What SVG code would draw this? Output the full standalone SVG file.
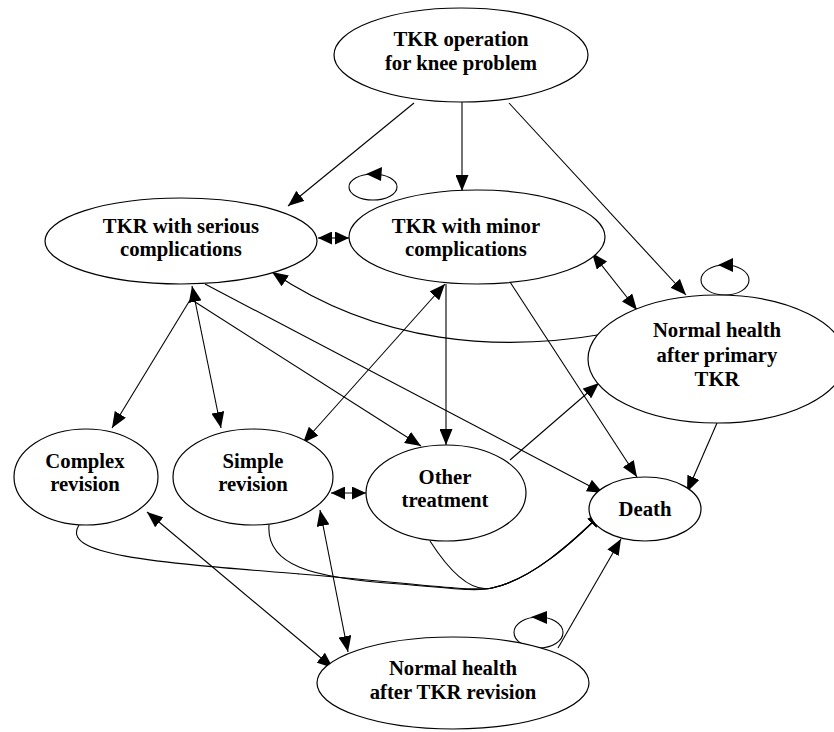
<svg xmlns="http://www.w3.org/2000/svg" width="834" height="732" viewBox="0 0 834 732">
<defs>
<style>
.n ellipse{fill:#fff;stroke:#000;stroke-width:1.2}
.n text{font-family:"Liberation Serif","Times New Roman",serif;font-weight:bold;font-size:20.7px;text-anchor:middle;fill:#000}
.e path,.e line{fill:none;stroke:#000;stroke-width:1.1}
.loop{fill:none;stroke:#000;stroke-width:1.1}
.ah{fill:#000}
</style>
<marker id="a" viewBox="0 0 16 13" refX="16" refY="6.5" markerWidth="16" markerHeight="13" markerUnits="userSpaceOnUse" orient="auto-start-reverse"><path d="M0,0 L16,6.5 L0,13 z"/></marker>
<marker id="s" viewBox="0 0 14 13" refX="14" refY="6.5" markerWidth="14" markerHeight="13" markerUnits="userSpaceOnUse" orient="auto-start-reverse"><path d="M0,0 L14,6.5 L0,13 z"/></marker>
</defs>
<rect width="834" height="732" fill="#fff"/>
<g id="connectors" class="e">
<line x1="414" y1="103" x2="288" y2="206" marker-end="url(#a)"/>
<line x1="462" y1="102" x2="462" y2="191" marker-end="url(#a)"/>
<line x1="509" y1="103" x2="686" y2="295" marker-end="url(#a)"/>
<line x1="318" y1="238" x2="349" y2="238" marker-start="url(#s)" marker-end="url(#s)"/>
<line x1="592" y1="253" x2="637" y2="310" marker-start="url(#a)" marker-end="url(#a)"/>
<path d="M604,334 C500,352 380,345 272,272" marker-end="url(#a)"/>
<line x1="190" y1="300" x2="112" y2="428" marker-end="url(#a)"/>
<line x1="192" y1="286" x2="221" y2="428" marker-start="url(#a)" marker-end="url(#a)"/>
<line x1="192" y1="300" x2="421" y2="446" marker-end="url(#a)"/>
<line x1="205" y1="284" x2="603" y2="493" marker-end="url(#a)"/>
<line x1="446" y1="284" x2="446" y2="445" marker-end="url(#a)"/>
<line x1="445" y1="284" x2="303" y2="443" marker-start="url(#a)" marker-end="url(#a)"/>
<line x1="510" y1="282" x2="637" y2="477" marker-end="url(#a)"/>
<line x1="510" y1="460" x2="599" y2="383" marker-end="url(#a)"/>
<line x1="717" y1="423" x2="687" y2="492" marker-end="url(#a)"/>
<line x1="331" y1="493" x2="366" y2="493" marker-start="url(#s)" marker-end="url(#s)"/>
<path d="M79,525 C60,555 150,562 300,574 C400,582 470,592 492,588 C530,580 570,545 603,512" marker-end="url(#a)"/>
<path d="M269,525 C266,565 310,578 400,584 C450,588 475,592 492,588 C530,580 570,545 603,512"/>
<path d="M430,541 C455,580 475,592 492,588 C530,580 570,545 603,512"/>
<line x1="147" y1="512" x2="333" y2="668" marker-start="url(#a)" marker-end="url(#a)"/>
<line x1="320" y1="510" x2="348" y2="652" marker-start="url(#a)" marker-end="url(#a)"/>
<line x1="558" y1="648" x2="621" y2="539" marker-end="url(#a)"/>
<ellipse class="loop" cx="373" cy="187" rx="24" ry="13"/>
<polygon class="ah" points="366,174 382,167 381,181"/>
<ellipse class="loop" cx="725" cy="280" rx="24" ry="15"/>
<polygon class="ah" points="718,265 733,258 733,272"/>
<ellipse class="loop" cx="538.5" cy="632.5" rx="24.5" ry="15.5"/>
<polygon class="ah" points="531,617 547,611 547,624"/>
</g>
<g id="tkr_op" class="n"><ellipse cx="461" cy="55" rx="127" ry="47"/><text x="461" y="46">TKR operation</text><text x="461" y="70">for knee problem</text></g>
<g id="serious" class="n"><ellipse cx="181" cy="241" rx="136" ry="43"/><text x="181" y="233">TKR with serious</text><text x="181" y="256">complications</text></g>
<g id="minor" class="n"><ellipse cx="477" cy="237" rx="128" ry="47"/><text x="466" y="233">TKR with minor</text><text x="466" y="256">complications</text></g>
<g id="primary" class="n"><ellipse cx="717" cy="359" rx="129" ry="64"/><text x="717" y="337">Normal health</text><text x="717" y="362">after primary</text><text x="717" y="386">TKR</text></g>
<g id="complex" class="n"><ellipse cx="86" cy="477" rx="72" ry="48"/><text x="85" y="468">Complex</text><text x="85" y="491">revision</text></g>
<g id="simple" class="n"><ellipse cx="253" cy="477" rx="80" ry="48"/><text x="253" y="468">Simple</text><text x="253" y="491">revision</text></g>
<g id="other" class="n"><ellipse cx="446" cy="493" rx="80" ry="48"/><text x="445" y="484">Other</text><text x="445" y="507">treatment</text></g>
<g id="death" class="n"><ellipse cx="645" cy="509" rx="56" ry="32"/><text x="645" y="516">Death</text></g>
<g id="revision" class="n"><ellipse cx="453" cy="683" rx="136" ry="46"/><text x="453" y="675">Normal health</text><text x="453" y="699">after TKR revision</text></g>
</svg>
